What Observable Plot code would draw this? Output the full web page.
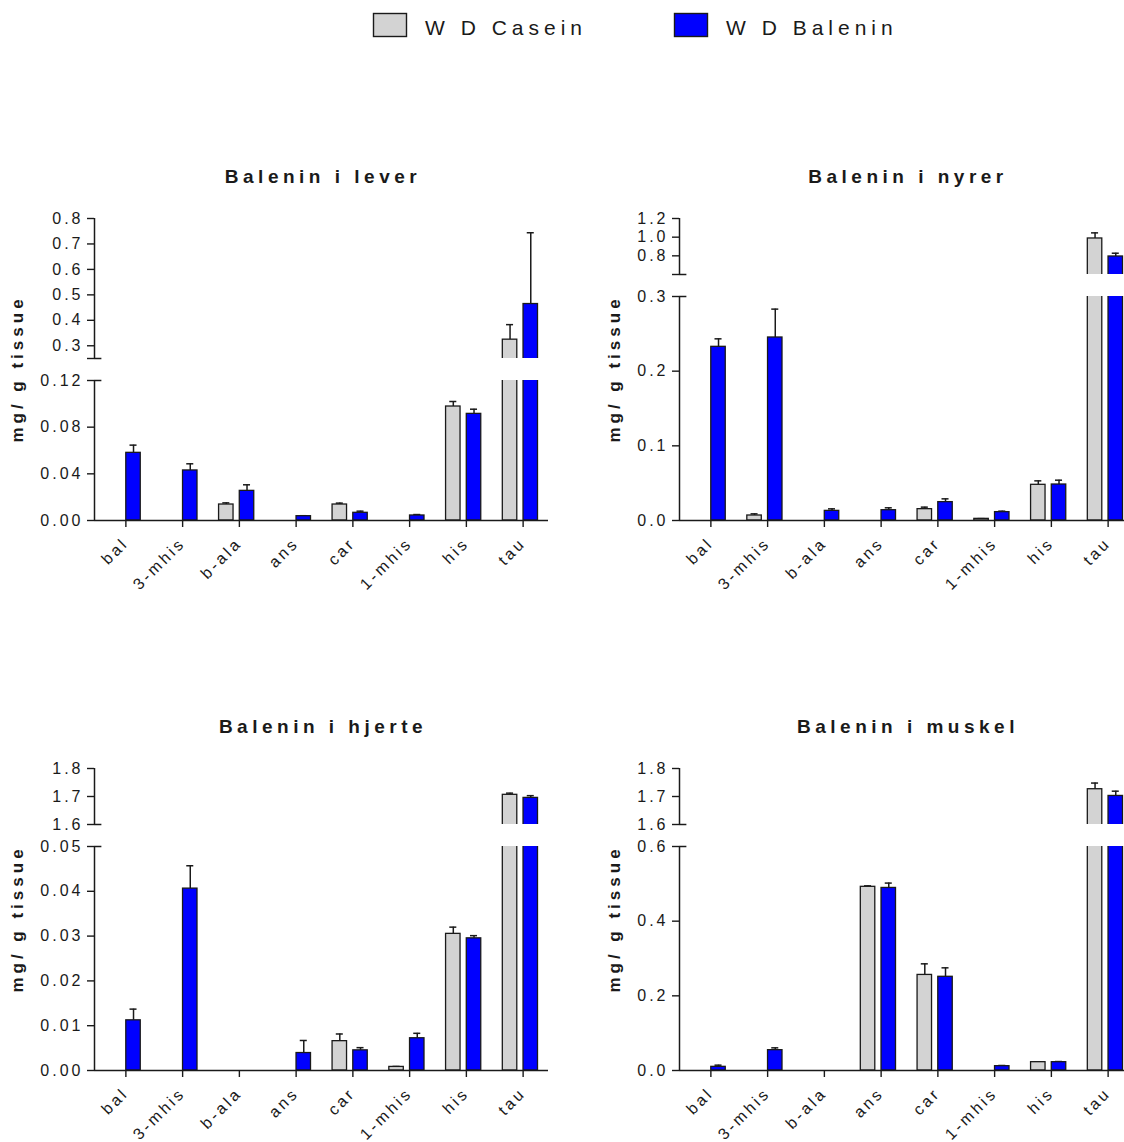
<!DOCTYPE html>
<html>
<head>
<meta charset="utf-8">
<script src="https://cdn.jsdelivr.net/npm/d3@7"></script>
<script src="https://cdn.jsdelivr.net/npm/@observablehq/plot@0.6"></script>
<style>
html, body { margin: 0; padding: 0; background: #fff; overflow: hidden; }
#root { position: relative; width: 1124px; height: 1142px; overflow: hidden; background: #fff;
  font-family: "Liberation Sans", Arial, sans-serif; }
#root > svg { position: absolute; }
</style>
</head>
<body>
<div id="root"></div>
<script>
// ---------- data ----------
const categories = ["bal", "3-mhis", "b-ala", "ans", "car", "1-mhis", "his", "tau"];
const seriesNames = ["W D Casein", "W D Balenin"];
const seriesColors = ["#d3d3d3", "#0000ff"];
const panelTitles = ["Balenin i lever", "Balenin i nyrer", "Balenin i hjerte", "Balenin i muskel"];
const yLabel = "mg/ g tissue";

// lever
const leverCasein     = [null, null, 0.0137, null, 0.0137, null, 0.0977, 0.324];
const leverCaseinSem  = [null, null, 0.0014, null, 0.0012, null, 0.0043, 0.059];
const leverBalenin    = [0.058, 0.0429, 0.0254, 0.0037, 0.0066, 0.0043, 0.0914, 0.464];
const leverBaleninSem = [0.0066, 0.0057, 0.0052, 0.0004, 0.0014, 0.0008, 0.0040, 0.280];
const leverUpperDomain = [0.25, 0.8];
const leverUpperTicks  = [0.3, 0.4, 0.5, 0.6, 0.7, 0.8];
const leverLowerDomain = [0, 0.12];
const leverLowerTicks  = [0, 0.04, 0.08, 0.12];

// nyrer
const nyrerCasein     = [null, 0.0067, null, null, 0.0152, 0.0022, 0.0478, 0.986];
const nyrerCaseinSem  = [null, 0.0022, null, null, 0.0027, 0.0003, 0.0053, 0.060];
const nyrerBalenin    = [0.2326, 0.2451, 0.0129, 0.0138, 0.0246, 0.0112, 0.0482, 0.793];
const nyrerBaleninSem = [0.0107, 0.0380, 0.0027, 0.0032, 0.0044, 0.0013, 0.0058, 0.035];
const nyrerUpperDomain = [0.6, 1.2];
const nyrerUpperTicks  = [0.8, 1.0, 1.2];
const nyrerLowerDomain = [0, 0.3];
const nyrerLowerTicks  = [0, 0.1, 0.2, 0.3];

// hjerte
const hjerteCasein     = [null, null, null, null, 0.00655, 0.0008, 0.0305, 1.706];
const hjerteCaseinSem  = [null, null, null, null, 0.0016, 0.0001, 0.0015, 0.006];
const hjerteBalenin    = [0.0112, 0.0406, null, 0.0039, 0.0045, 0.0072, 0.0295, 1.695];
const hjerteBaleninSem = [0.0025, 0.0051, null, 0.0028, 0.0006, 0.0011, 0.0006, 0.008];
const hjerteUpperDomain = [1.6, 1.8];
const hjerteUpperTicks  = [1.6, 1.7, 1.8];
const hjerteLowerDomain = [0, 0.05];
const hjerteLowerTicks  = [0, 0.01, 0.02, 0.03, 0.04, 0.05];

// muskel
const muskelCasein     = [null, null, null, 0.492, 0.256, null, 0.0223, 1.726];
const muskelCaseinSem  = [null, null, null, 0.0026, 0.0297, null, 0.0010, 0.022];
const muskelBalenin    = [0.0098, 0.0545, null, 0.489, 0.251, 0.0116, 0.0223, 1.702];
const muskelBaleninSem = [0.0045, 0.0062, null, 0.013, 0.024, 0.0018, 0.0017, 0.017];
const muskelUpperDomain = [1.6, 1.8];
const muskelUpperTicks  = [1.6, 1.7, 1.8];
const muskelLowerDomain = [0, 0.6];
const muskelLowerTicks  = [0, 0.2, 0.4, 0.6];

// ---------- layout ----------
const INK = "#1a1a1a";
const FONT = "Liberation Sans, Arial, sans-serif";
const AXIS_LEN = 454;
const barOffsets = [[-0.305, -0.05], [0.06, 0.315]]; // in category units around tick
const capHalf = 0.062;
const breakExt = 0.13;

const panels = [
  {title: panelTitles[0], means: [leverCasein, leverBalenin], sems: [leverCaseinSem, leverBaleninSem],
   upDom: leverUpperDomain, upTicks: leverUpperTicks, upFmt: d3.format(".1f"),
   loDom: leverLowerDomain, loTicks: leverLowerTicks, loFmt: d3.format(".2f"),
   left: 0, axisX: 94, top: 218, upBottom: 358, loTop: 380, bottom: 520, yLabelX: 23, titleY: 183},
  {title: panelTitles[1], means: [nyrerCasein, nyrerBalenin], sems: [nyrerCaseinSem, nyrerBaleninSem],
   upDom: nyrerUpperDomain, upTicks: nyrerUpperTicks, upFmt: d3.format(".1f"),
   loDom: nyrerLowerDomain, loTicks: nyrerLowerTicks, loFmt: d3.format(".1f"),
   left: 585, axisX: 679, top: 218, upBottom: 274, loTop: 296, bottom: 520, yLabelX: 620, titleY: 183},
  {title: panelTitles[2], means: [hjerteCasein, hjerteBalenin], sems: [hjerteCaseinSem, hjerteBaleninSem],
   upDom: hjerteUpperDomain, upTicks: hjerteUpperTicks, upFmt: d3.format(".1f"),
   loDom: hjerteLowerDomain, loTicks: hjerteLowerTicks, loFmt: d3.format(".2f"),
   left: 0, axisX: 94, top: 768, upBottom: 824, loTop: 846, bottom: 1070, yLabelX: 23, titleY: 733},
  {title: panelTitles[3], means: [muskelCasein, muskelBalenin], sems: [muskelCaseinSem, muskelBaleninSem],
   upDom: muskelUpperDomain, upTicks: muskelUpperTicks, upFmt: d3.format(".1f"),
   loDom: muskelLowerDomain, loTicks: muskelLowerTicks, loFmt: d3.format(".1f"),
   left: 585, axisX: 679, top: 768, upBottom: 824, loTop: 846, bottom: 1070, yLabelX: 620, titleY: 733}
];

const root = document.getElementById("root");

// overlay for legend, titles, y labels
const overlay = d3.create("svg").attr("width", 1124).attr("height", 1142)
  .style("left", "0px").style("top", "0px").style("font-family", FONT);
const legendX = [373.5, 674.5];
seriesNames.forEach((name, k) => {
  overlay.append("rect").attr("x", legendX[k]).attr("y", 13.5).attr("width", 33).attr("height", 23)
    .attr("fill", seriesColors[k]).attr("stroke", INK).attr("stroke-width", 1.4);
  overlay.append("text").attr("x", legendX[k] + 51.5).attr("y", 35).attr("font-size", 21)
    .attr("letter-spacing", "5px").attr("fill", INK).text(name);
});
panels.forEach(p => {
  overlay.append("text").attr("x", p.axisX + AXIS_LEN / 2 + 2).attr("y", p.titleY)
    .attr("text-anchor", "middle").attr("font-size", 19).attr("font-weight", "bold")
    .attr("letter-spacing", "4.5px").attr("fill", INK).text(p.title);
  const cy = (p.top + p.bottom) / 2;
  overlay.append("text").attr("transform", `translate(${p.yLabelX},${cy}) rotate(-90)`)
    .attr("text-anchor", "middle").attr("font-size", 17).attr("font-weight", "bold")
    .attr("letter-spacing", "4px").attr("fill", INK).text(yLabel);
});
root.appendChild(overlay.node());

function segment(p, lower) {
  const xDomain = [-0.5, categories.length - 0.5];
  const domain = lower ? p.loDom : p.upDom;
  const ticks = lower ? p.loTicks : p.upTicks;
  const fmt = lower ? p.loFmt : p.upFmt;
  const topPx = lower ? p.loTop : p.top;
  const botPx = lower ? p.bottom : p.upBottom;
  const mt = 10, mb = lower ? 90 : 4, ml = p.axisX - p.left, mr = 20;
  const breakVal = lower ? domain[1] : domain[0];
  const axisTicks = Array.from(new Set([breakVal, ...ticks])).sort((a, b) => a - b);
  const tickFmt = d => ticks.some(t => Math.abs(t - d) < 1e-9) ? fmt(d) : "";

  const marks = [];
  seriesNames.forEach((name, k) => {
    const rows = categories.map((c, i) => ({i, v: p.means[k][i], e: p.sems[k][i]}))
      .filter(d => d.v != null);
    const off = barOffsets[k];
    const cx = d => d.i + (off[0] + off[1]) / 2;
    marks.push(Plot.ruleX(rows, {x: cx, y1: "v", y2: d => d.v + d.e, stroke: INK, strokeWidth: 1.5, clip: true}));
    marks.push(Plot.ruleY(rows, {y: d => d.v + d.e, x1: d => cx(d) - capHalf, x2: d => cx(d) + capHalf,
      stroke: INK, strokeWidth: 1.5, clip: true}));
    marks.push(Plot.rectY(rows, {x1: d => d.i + off[0], x2: d => d.i + off[1], y1: 0, y2: "v",
      fill: seriesColors[k], stroke: INK, strokeWidth: 1.3, clip: true}));
  });
  marks.push(Plot.ruleX([xDomain[0]], {y1: domain[0], y2: domain[1], stroke: INK, strokeWidth: 1.5}));
  marks.push(Plot.ruleY([breakVal], {x1: xDomain[0], x2: xDomain[0] + breakExt, stroke: INK, strokeWidth: 1.5}));
  marks.push(Plot.axisY({ticks: axisTicks, tickFormat: tickFmt, tickSize: 7, tickPadding: 4,
    stroke: INK, strokeWidth: 1.4, fill: INK, label: null}));
  if (lower) {
    marks.push(Plot.ruleY([0], {x1: xDomain[0], x2: xDomain[1], stroke: INK, strokeWidth: 1.5}));
    marks.push(Plot.axisX({ticks: d3.range(categories.length), tickFormat: i => categories[i],
      tickRotate: -45, tickSize: 7, tickPadding: 13, dx: 3, stroke: INK, strokeWidth: 1.4, fill: INK, label: null}));
  }
  const svg = Plot.plot({
    width: ml + AXIS_LEN + mr,
    height: mt + (botPx - topPx) + mb,
    marginLeft: ml, marginRight: mr, marginTop: mt, marginBottom: mb,
    x: {domain: xDomain, axis: null},
    y: {domain, axis: null},
    style: {background: "transparent", fontFamily: FONT, fontSize: "16px", letterSpacing: "3px",
      color: INK, overflow: "visible", maxWidth: "none"},
    marks
  });
  svg.style.position = "absolute";
  svg.style.left = p.left + "px";
  svg.style.top = (topPx - mt) + "px";
  root.appendChild(svg);
}

panels.forEach(p => { segment(p, false); segment(p, true); });
</script>
</body>
</html>
